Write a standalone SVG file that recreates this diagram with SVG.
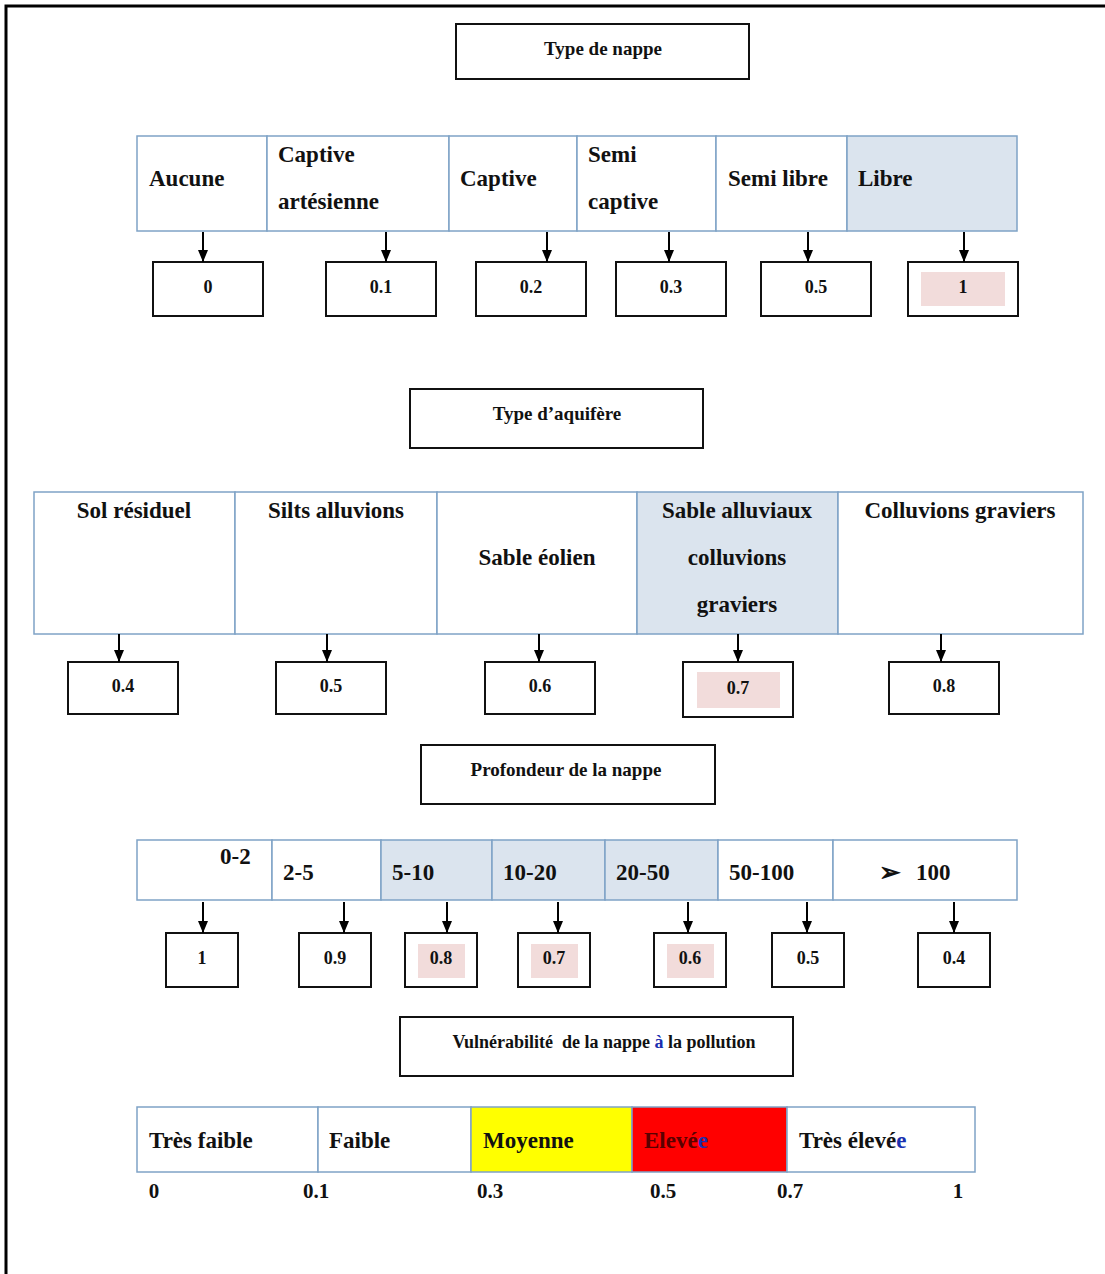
<svg xmlns="http://www.w3.org/2000/svg" width="1105" height="1274" viewBox="0 0 1105 1274">
<defs>
<marker id="ah" viewBox="0 0 12 10" refX="12" refY="5" markerWidth="12" markerHeight="10" markerUnits="userSpaceOnUse" orient="auto">
<path d="M0,0 L12,5 L0,10 Z" fill="#000"/>
</marker>
<style>
text{font-family:"Liberation Serif","Times New Roman",serif;font-weight:bold;fill:#111;}
.t{font-size:23px;}
.h{font-size:19px;text-anchor:middle;}
.v{font-size:18px;text-anchor:middle;}
.s{font-size:21px;text-anchor:middle;}
.box{fill:#fff;stroke:#111;stroke-width:2;}
.cell{fill:#fff;stroke:#7fa3c6;stroke-width:1.5;}
.blue{fill:#dbe4ee;stroke:#7fa3c6;stroke-width:1.5;}
.pink{fill:#f2dcdb;stroke:none;}
.arr{stroke:#000;stroke-width:2;fill:none;}
.bl{fill:#1a2fb0;}
</style>
</defs>
<rect width="1105" height="1274" fill="#fff"/>
<path d="M6,1274 L6,6 L1105,6" fill="none" stroke="#000" stroke-width="3"/>

<!-- Section 1 -->
<g id="title1"><rect class="box" x="456" y="24" width="293" height="55"/><text class="h" x="603" y="55">Type de nappe</text></g>
<g id="row1">
<rect class="cell" x="137" y="136" width="130" height="95"/>
<rect class="cell" x="267" y="136" width="182" height="95"/>
<rect class="cell" x="449" y="136" width="128" height="95"/>
<rect class="cell" x="577" y="136" width="139" height="95"/>
<rect class="cell" x="716" y="136" width="131" height="95"/>
<rect class="blue" x="847" y="136" width="170" height="95"/>
<text class="t" x="149" y="186">Aucune</text>
<text class="t" x="278" y="162">Captive</text>
<text class="t" x="278" y="209">artésienne</text>
<text class="t" x="460" y="186">Captive</text>
<text class="t" x="588" y="162">Semi</text>
<text class="t" x="588" y="209">captive</text>
<text class="t" x="728" y="186">Semi libre</text>
<text class="t" x="858" y="186">Libre</text>
</g>
<g id="v1-0"><rect class="box" x="153" y="262" width="110" height="54"/><text class="v" x="208" y="293">0</text></g>
<g id="v1-1"><rect class="box" x="326" y="262" width="110" height="54"/><text class="v" x="381" y="293">0.1</text></g>
<g id="v1-2"><rect class="box" x="476" y="262" width="110" height="54"/><text class="v" x="531" y="293">0.2</text></g>
<g id="v1-3"><rect class="box" x="616" y="262" width="110" height="54"/><text class="v" x="671" y="293">0.3</text></g>
<g id="v1-5"><rect class="box" x="761" y="262" width="110" height="54"/><text class="v" x="816" y="293">0.5</text></g>
<g id="v1-6"><rect class="box" x="908" y="262" width="110" height="54"/><rect class="pink" x="921" y="272" width="84" height="34"/><text class="v" x="963" y="293">1</text></g>

<!-- Section 2 -->
<g id="title2"><rect class="box" x="410" y="389" width="293" height="59"/><text class="h" x="557" y="420">Type d’aquifère</text></g>
<g id="row2">
<rect class="cell" x="34" y="492" width="201" height="142"/>
<rect class="cell" x="235" y="492" width="202" height="142"/>
<rect class="cell" x="437" y="492" width="200" height="142"/>
<rect class="blue" x="637" y="492" width="201" height="142"/>
<rect class="cell" x="838" y="492" width="245" height="142"/>
<text class="t" x="134" y="518" text-anchor="middle">Sol résiduel</text>
<text class="t" x="336" y="518" text-anchor="middle">Silts alluvions</text>
<text class="t" x="537" y="565" text-anchor="middle">Sable éolien</text>
<text class="t" x="737" y="518" text-anchor="middle">Sable alluviaux</text>
<text class="t" x="737" y="565" text-anchor="middle">colluvions</text>
<text class="t" x="737" y="612" text-anchor="middle">graviers</text>
<text class="t" x="960" y="518" text-anchor="middle">Colluvions graviers</text>
</g>
<g id="v2-1"><rect class="box" x="68" y="662" width="110" height="52"/><text class="v" x="123" y="692">0.4</text></g>
<g id="v2-2"><rect class="box" x="276" y="662" width="110" height="52"/><text class="v" x="331" y="692">0.5</text></g>
<g id="v2-3"><rect class="box" x="485" y="662" width="110" height="52"/><text class="v" x="540" y="692">0.6</text></g>
<g id="v2-4"><rect class="box" x="683" y="662" width="110" height="55"/><rect class="pink" x="697" y="672" width="83" height="36"/><text class="v" x="738" y="694">0.7</text></g>
<g id="v2-5"><rect class="box" x="889" y="662" width="110" height="52"/><text class="v" x="944" y="692">0.8</text></g>

<!-- Section 3 -->
<g id="title3"><rect class="box" x="421" y="745" width="294" height="59"/><text class="h" x="566" y="776">Profondeur de la nappe</text></g>
<g id="row3">
<rect class="cell" x="137" y="840" width="135" height="60"/>
<rect class="cell" x="272" y="840" width="109" height="60"/>
<rect class="blue" x="381" y="840" width="111" height="60"/>
<rect class="blue" x="492" y="840" width="113" height="60"/>
<rect class="blue" x="605" y="840" width="113" height="60"/>
<rect class="cell" x="718" y="840" width="115" height="60"/>
<rect class="cell" x="833" y="840" width="184" height="60"/>
<text class="t" x="220" y="864">0-2</text>
<text class="t" x="283" y="880">2-5</text>
<text class="t" x="392" y="880">5-10</text>
<text class="t" x="503" y="880">10-20</text>
<text class="t" x="616" y="880">20-50</text>
<text class="t" x="729" y="880">50-100</text>
<text class="t" x="879" y="881" style="font-size:26px">➢</text>
<text class="t" x="916" y="880">100</text>
</g>
<g id="v3-1"><rect class="box" x="166" y="933" width="72" height="54"/><text class="v" x="202" y="964">1</text></g>
<g id="v3-2"><rect class="box" x="299" y="933" width="72" height="54"/><text class="v" x="335" y="964">0.9</text></g>
<g id="v3-3"><rect class="box" x="405" y="933" width="72" height="54"/><rect class="pink" x="418" y="944" width="47" height="34"/><text class="v" x="441" y="964">0.8</text></g>
<g id="v3-4"><rect class="box" x="518" y="933" width="72" height="54"/><rect class="pink" x="531" y="944" width="47" height="34"/><text class="v" x="554" y="964">0.7</text></g>
<g id="v3-5"><rect class="box" x="654" y="933" width="72" height="54"/><rect class="pink" x="667" y="944" width="47" height="34"/><text class="v" x="690" y="964">0.6</text></g>
<g id="v3-6"><rect class="box" x="772" y="933" width="72" height="54"/><text class="v" x="808" y="964">0.5</text></g>
<g id="v3-7"><rect class="box" x="918" y="933" width="72" height="54"/><text class="v" x="954" y="964">0.4</text></g>

<!-- Section 4 -->
<g id="title4"><rect class="box" x="400" y="1017" width="393" height="59"/><text class="v" x="604" y="1048" xml:space="preserve">Vulnérabilité  de la nappe <tspan class="bl">à</tspan> la pollution</text></g>
<g id="scale">
<rect class="cell" x="137" y="1107" width="181" height="65"/>
<rect class="cell" x="318" y="1107" width="153" height="65"/>
<rect x="471" y="1107" width="161" height="65" fill="#ffff00" stroke="#7fa3c6" stroke-width="1.5"/>
<rect x="632" y="1107" width="155" height="65" fill="#ff0000" stroke="#7fa3c6" stroke-width="1.5"/>
<rect class="cell" x="787" y="1107" width="188" height="65"/>
<text class="t" x="149" y="1148">Très faible</text>
<text class="t" x="329" y="1148">Faible</text>
<text class="t" x="483" y="1148">Moyenne</text>
<text class="t" x="644" y="1148" style="fill:#5a0000">Elevé<tspan class="bl">e</tspan></text>
<text class="t" x="799" y="1148">Très élevé<tspan class="bl">e</tspan></text>
<text class="s" x="154" y="1198">0</text>
<text class="s" x="316" y="1198">0.1</text>
<text class="s" x="490" y="1198">0.3</text>
<text class="s" x="663" y="1198">0.5</text>
<text class="s" x="790" y="1198">0.7</text>
<text class="s" x="958" y="1198">1</text>
</g>

<g id="connectors">
<line class="arr" x1="203" y1="232" x2="203" y2="262" marker-end="url(#ah)"/>
<line class="arr" x1="386" y1="232" x2="386" y2="262" marker-end="url(#ah)"/>
<line class="arr" x1="547" y1="232" x2="547" y2="262" marker-end="url(#ah)"/>
<line class="arr" x1="669" y1="232" x2="669" y2="262" marker-end="url(#ah)"/>
<line class="arr" x1="808" y1="232" x2="808" y2="262" marker-end="url(#ah)"/>
<line class="arr" x1="964" y1="232" x2="964" y2="262" marker-end="url(#ah)"/>
<line class="arr" x1="119" y1="634" x2="119" y2="662" marker-end="url(#ah)"/>
<line class="arr" x1="327" y1="634" x2="327" y2="662" marker-end="url(#ah)"/>
<line class="arr" x1="539" y1="634" x2="539" y2="662" marker-end="url(#ah)"/>
<line class="arr" x1="738" y1="634" x2="738" y2="662" marker-end="url(#ah)"/>
<line class="arr" x1="941" y1="634" x2="941" y2="662" marker-end="url(#ah)"/>
<line class="arr" x1="203" y1="902" x2="203" y2="933" marker-end="url(#ah)"/>
<line class="arr" x1="344" y1="902" x2="344" y2="933" marker-end="url(#ah)"/>
<line class="arr" x1="447" y1="902" x2="447" y2="933" marker-end="url(#ah)"/>
<line class="arr" x1="558" y1="902" x2="558" y2="933" marker-end="url(#ah)"/>
<line class="arr" x1="688" y1="902" x2="688" y2="933" marker-end="url(#ah)"/>
<line class="arr" x1="807" y1="902" x2="807" y2="933" marker-end="url(#ah)"/>
<line class="arr" x1="954" y1="902" x2="954" y2="933" marker-end="url(#ah)"/>
</g>
</svg>
